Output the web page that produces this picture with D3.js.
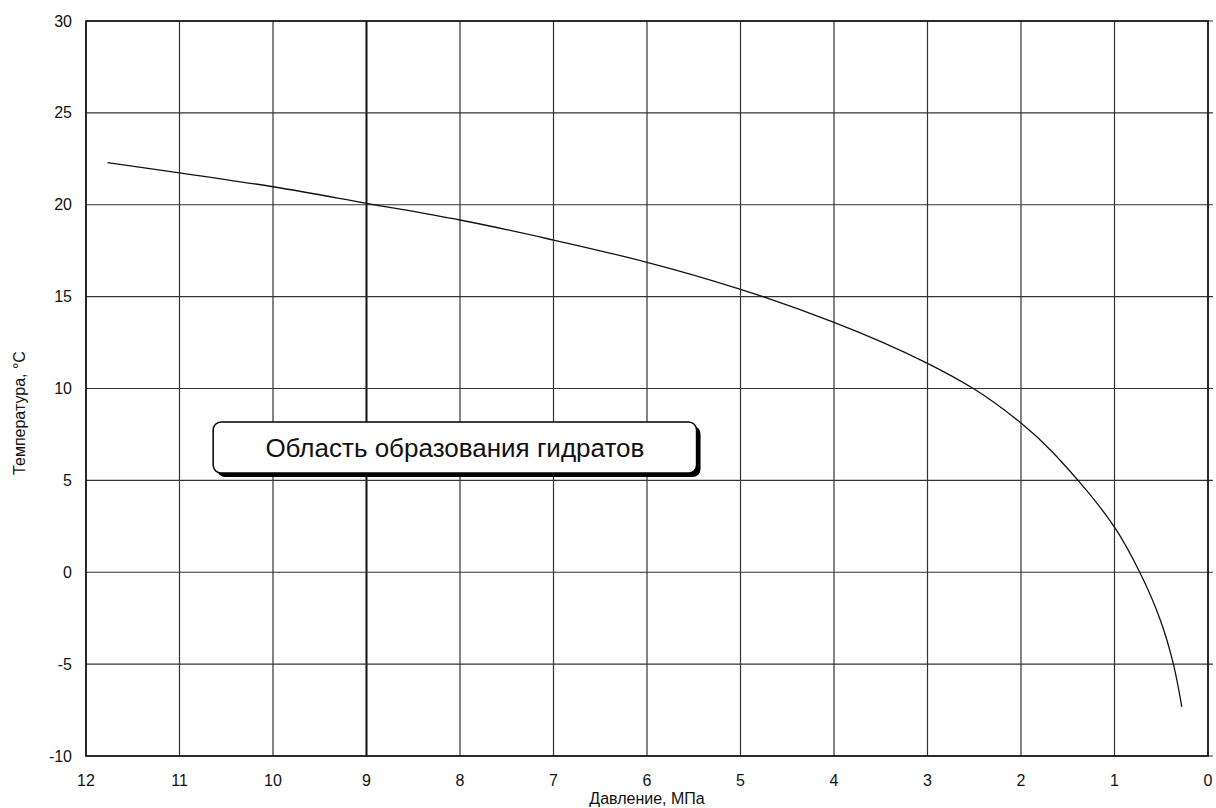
<!DOCTYPE html>
<html>
<head>
<meta charset="utf-8">
<script src="https://cdn.jsdelivr.net/npm/d3@7"></script>
<style>
  body { margin:0; background:#fff; }
  text { font-family: "Liberation Sans", Arial, sans-serif; fill:#111; }
</style>
</head>
<body>
<div id="chart"></div>
<script>
// hydrate curve: pressure (MPa) and temperature (°C)
var pressure = [11.77, 11, 10, 9, 8, 7, 6, 5, 4.76, 4, 3, 2.51, 2, 1.39, 1, 0.73, 0.51, 0.37, 0.28];
var temperature = [22.29, 21.74, 20.98, 20.08, 19.17, 18.08, 16.87, 15.4, 15.0, 13.6, 11.37, 10.0, 8.12, 5.0, 2.45, 0, -2.6, -5, -7.33];

var xTicks = [12, 11, 10, 9, 8, 7, 6, 5, 4, 3, 2, 1, 0],
  yTicks = [30, 25, 20, 15, 10, 5, 0, -5, -10];

var labelText = 'Область образования гидратов';
var xTitle = 'Давление, МПа',
  yTitle = 'Температура, °C';

var svgWidth = 1216,
  svgHeight = 808;

var margin = {t:21, r:8, b:52, l:86};
var width = svgWidth - margin.l - margin.r,
  height = svgHeight - margin.t - margin.b;

var svg = d3.select('#chart').append('svg')
  .attr('width', svgWidth)
  .attr('height', svgHeight);

var g = svg.append('g')
  .attr('transform', `translate(${margin.l},${margin.t})`);

var xScale = d3.scaleLinear().domain([12, 0]).range([0, width]);
var yScale = d3.scaleLinear().domain([-10, 30]).range([height, 0]);

// grid
g.append('g').selectAll('line')
  .data(xTicks)
  .enter().append('line')
  .attr('x1', d => xScale(d)).attr('x2', d => xScale(d))
  .attr('y1', 0).attr('y2', height)
  .attr('stroke', d => d === 9 ? '#111' : '#333')
  .attr('stroke-width', d => d === 9 ? 2 : 1.2);

g.append('g').selectAll('line')
  .data(yTicks)
  .enter().append('line')
  .attr('x1', 0).attr('x2', width + 5)
  .attr('y1', d => yScale(d)).attr('y2', d => yScale(d))
  .attr('stroke', '#333')
  .attr('stroke-width', 1.2);

// frame
g.append('rect')
  .attr('width', width).attr('height', height)
  .attr('fill', 'none')
  .attr('stroke', '#111')
  .attr('stroke-width', 1.6);

// tick labels
g.append('g').selectAll('text')
  .data(yTicks)
  .enter().append('text')
  .attr('x', -14)
  .attr('y', d => yScale(d))
  .attr('dy', '0.35em')
  .attr('text-anchor', 'end')
  .style('font-size', '16px')
  .text(d => d);

g.append('g').selectAll('text')
  .data(xTicks)
  .enter().append('text')
  .attr('x', d => xScale(d))
  .attr('y', height + 24)
  .attr('dy', '0.35em')
  .attr('text-anchor', 'middle')
  .style('font-size', '16px')
  .text(d => d);

// axis titles
svg.append('text')
  .attr('x', margin.l + width / 2)
  .attr('y', 804)
  .attr('text-anchor', 'middle')
  .style('font-size', '16px')
  .text(xTitle);

svg.append('text')
  .attr('transform', 'translate(25,413)rotate(-90)')
  .attr('text-anchor', 'middle')
  .style('font-size', '16px')
  .text(yTitle);

// curve: temperature falls steadily, so interpolate monotone in y
var pts = pressure.map((p, i) => [p, temperature[i]]);
var line = d3.line()
  .x(d => xScale(d[0]))
  .y(d => yScale(d[1]))
  .curve(d3.curveMonotoneY);

g.append('path')
  .datum(pts)
  .attr('d', line)
  .attr('fill', 'none')
  .attr('stroke', '#111')
  .attr('stroke-width', 1.3);

// annotation box (placed in data units)
var box = {p0:10.64, p1:5.47, t0:8.18, t1:5.4};
var bx = xScale(box.p0), bw = xScale(box.p1) - bx,
  by = yScale(box.t0), bh = yScale(box.t1) - by;

g.append('rect')
  .attr('x', bx + 4).attr('y', by + 4)
  .attr('width', bw).attr('height', bh)
  .attr('rx', 8).attr('ry', 8)
  .attr('fill', '#000');

g.append('rect')
  .attr('x', bx).attr('y', by)
  .attr('width', bw).attr('height', bh)
  .attr('rx', 8).attr('ry', 8)
  .attr('fill', '#fff')
  .attr('stroke', '#000')
  .attr('stroke-width', 1.5);

g.append('text')
  .attr('x', bx + bw / 2)
  .attr('y', by + bh / 2)
  .attr('dy', '0.35em')
  .attr('text-anchor', 'middle')
  .style('font-size', '26px')
  .text(labelText);
</script>
</body>
</html>
